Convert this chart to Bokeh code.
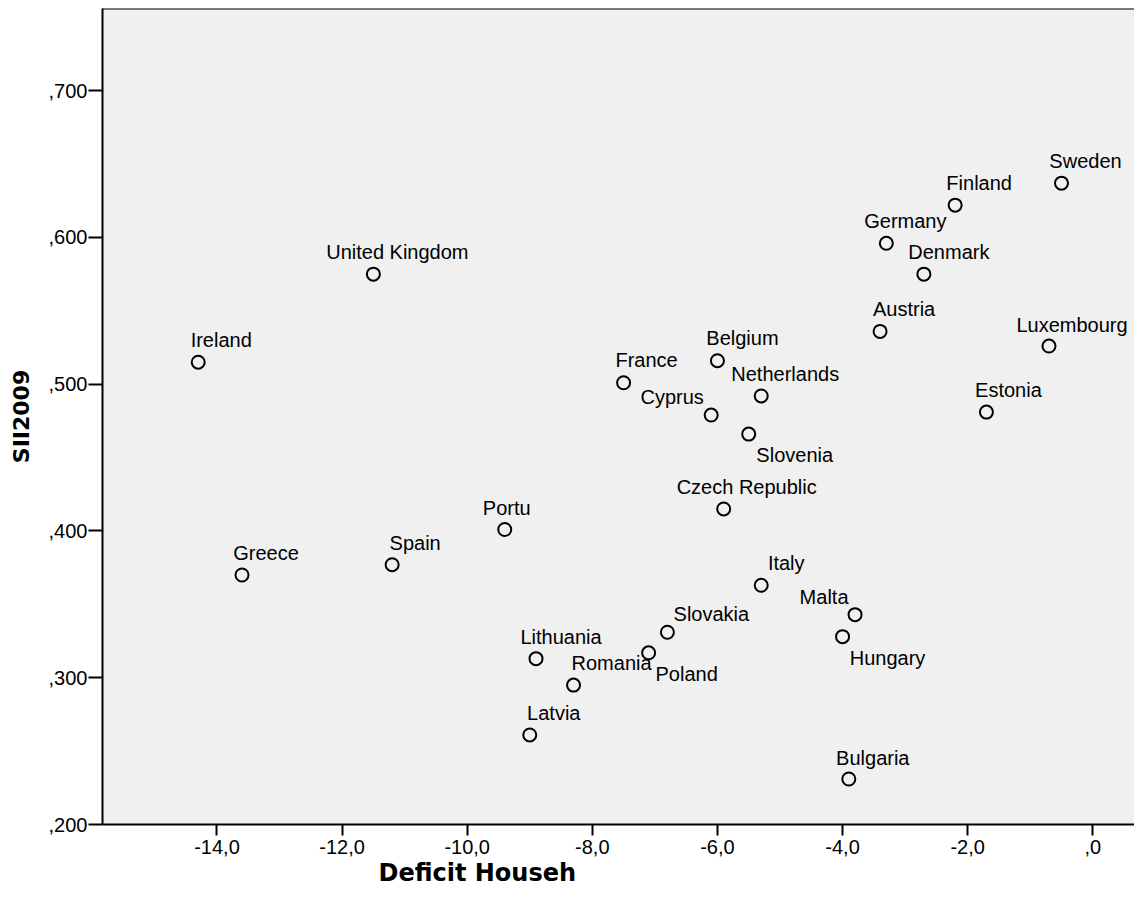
from bokeh.plotting import figure
from bokeh.models import ColumnDataSource, FixedTicker, Title, Range1d, Span, CustomJSTransform
from bokeh.core.properties import value
from bokeh.transform import transform
from bokeh.embed import file_html
from bokeh.resources import INLINE

countries = ["Sweden", "Finland", "Germany", "Denmark", "Austria", "Luxembourg", "Estonia",
             "United Kingdom", "Ireland", "Belgium", "France", "Netherlands", "Cyprus", "Slovenia",
             "Czech Republic", "Portu", "Greece", "Spain", "Italy", "Malta", "Hungary",
             "Slovakia", "Poland", "Lithuania", "Romania", "Latvia", "Bulgaria"]
deficit = [-0.5, -2.2, -3.3, -2.7, -3.4, -0.7, -1.7,
           -11.5, -14.3, -6.0, -7.5, -5.3, -6.1, -5.5,
           -5.9, -9.4, -13.6, -11.2, -5.3, -3.8, -4.0,
           -6.8, -7.1, -8.9, -8.3, -9.0, -3.9]
sii = [0.637, 0.622, 0.596, 0.575, 0.536, 0.526, 0.481,
       0.575, 0.515, 0.516, 0.501, 0.492, 0.479, 0.466,
       0.415, 0.401, 0.370, 0.377, 0.363, 0.343, 0.328,
       0.331, 0.317, 0.313, 0.295, 0.261, 0.231]
# label placement (pixels, relative to marker; positive = right / up)
label_dx = [24, 24, 19, 25, 24, 23, 22,
            24, 23, 25, 23, 24, -39, 46,
            23, 2, 24, 23, 25, -31, 45,
            44, 38, 25, 38, 24, 24]
label_dy = [22, 22, 22, 22, 22, 21, 22,
            22, 22, 23, 23, 22, 18, -21,
            22, 22, 22, 22, 22, 18, -21,
            18, -21, 22, 22, 22, 21]

x_ticks = [-14, -12, -10, -8, -6, -4, -2, 0]
x_tick_labels = ["-14,0", "-12,0", "-10,0", "-8,0", "-6,0", "-4,0", "-2,0", ",0"]
y_ticks = [0.2, 0.3, 0.4, 0.5, 0.6, 0.7]
y_tick_labels = [",200", ",300", ",400", ",500", ",600", ",700"]
x_min, x_max = -15.83, 0.667
y_min, y_max = 0.2, 0.756

src = ColumnDataSource(dict(x=deficit, y=sii, name=countries, dx=label_dx, dy=label_dy))

p = figure(width=1134, height=900, output_backend="svg", toolbar_location=None,
           x_range=Range1d(x_min, x_max), y_range=Range1d(y_min, y_max),
           min_border_left=102, min_border_right=0, min_border_top=8, min_border_bottom=76)

p.background_fill_color = "#f0f0f0"
p.border_fill_color = "white"
p.outline_line_color = None
p.xgrid.visible = False
p.ygrid.visible = False

for ax in (p.xaxis[0], p.yaxis[0]):
    ax.axis_line_width = 2
    ax.axis_line_color = "black"
    ax.major_tick_line_width = 2
    ax.major_tick_line_color = "black"
    ax.major_tick_in = 0
    ax.minor_tick_line_color = None
    ax.major_label_text_font = "Liberation Sans"
    ax.major_label_text_font_size = "20px"
    ax.major_label_text_color = "black"

p.xaxis.ticker = FixedTicker(ticks=x_ticks)
p.xaxis.major_label_overrides = {t: l for t, l in zip(x_ticks, x_tick_labels)}
p.xaxis.major_tick_out = 11
p.xaxis.major_label_standoff = 4

p.yaxis.ticker = FixedTicker(ticks=y_ticks)
p.yaxis.major_label_overrides = {t: l for t, l in zip(y_ticks, y_tick_labels)}
p.yaxis.major_tick_out = 14
p.yaxis.major_label_standoff = 1
p.yaxis.axis_label = "SII2009"
p.yaxis.axis_label_text_font = "DejaVu Sans"
p.yaxis.axis_label_text_font_style = "bold"
p.yaxis.axis_label_text_font_size = "22px"
p.yaxis.axis_label_standoff = 12
p.yaxis.axis_label_text_color = "black"

# top frame line (right side of the frame is cut off in the original)
p.add_layout(Span(location=y_max, dimension="width", line_color="black", line_width=2))

xt = Title(text="Deficit Househ", align="left", offset=276,
           text_font="DejaVu Sans", text_font_style="bold", text_font_size="24px",
           text_color="black", standoff=0)
p.add_layout(xt, "below")

p.scatter("x", "y", source=src, size=13, marker="circle", fill_color=None,
          line_color="black", line_width=2)
flip = CustomJSTransform(v_func="return xs.map(v => -v)")
p.text("x", "y", text="name", source=src, x_offset="dx", y_offset=transform("dy", flip),
       text_align="center", text_baseline="middle",
       text_font=value("Liberation Sans"), text_font_size="20px", text_color="black")

open("out.html", "w").write(file_html(p, INLINE))
